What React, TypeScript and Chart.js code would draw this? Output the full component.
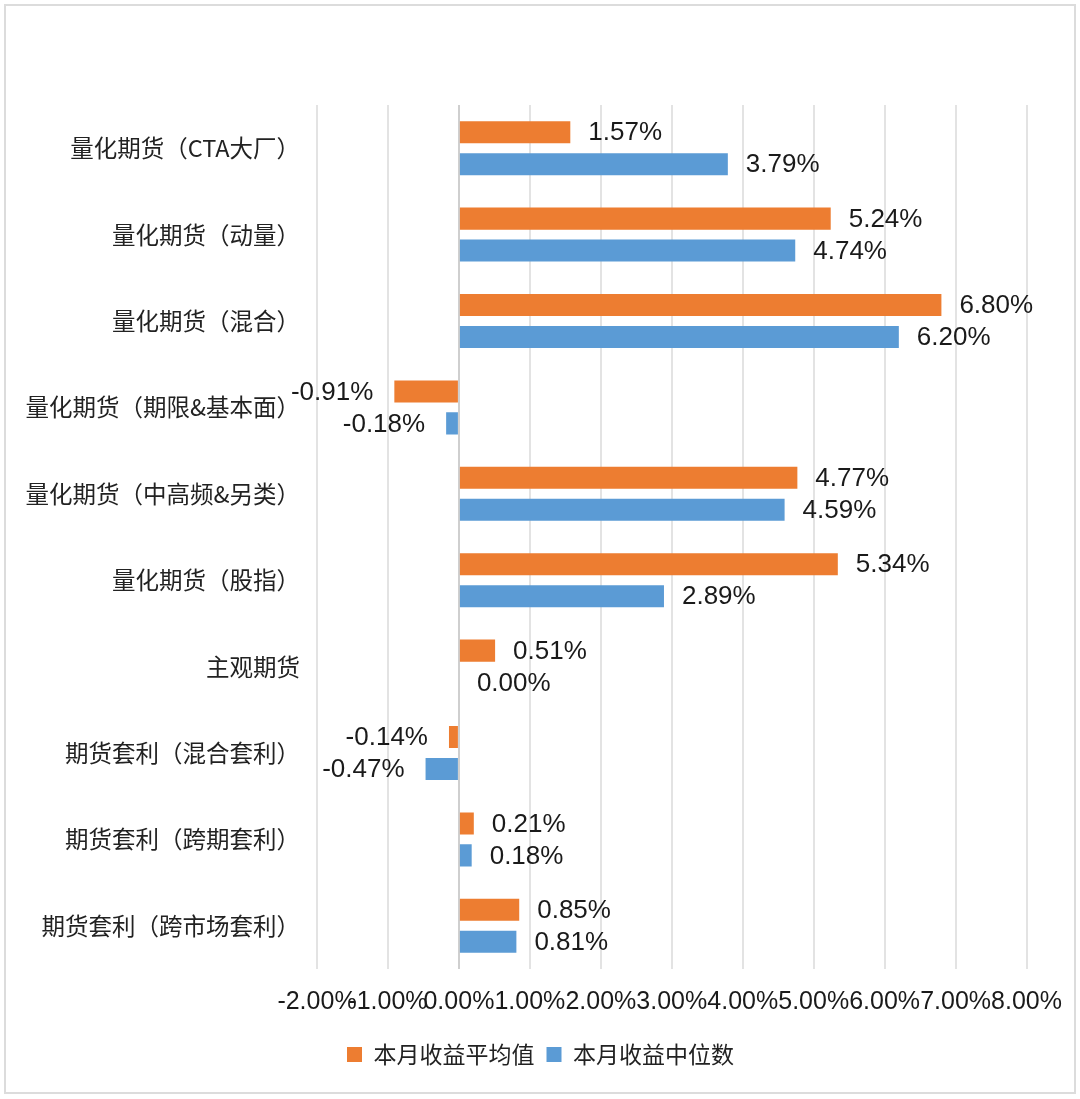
import React, { useEffect, useRef } from "react";
import { Chart, registerables } from "chart.js";

Chart.register(...registerables);

const categories = [
  "量化期货（CTA大厂）",
  "量化期货（动量）",
  "量化期货（混合）",
  "量化期货（期限&基本面）",
  "量化期货（中高频&另类）",
  "量化期货（股指）",
  "主观期货",
  "期货套利（混合套利）",
  "期货套利（跨期套利）",
  "期货套利（跨市场套利）",
];
const meanLabel = "本月收益平均值";
const medianLabel = "本月收益中位数";
const meanValues = [1.57, 5.24, 6.8, -0.91, 4.77, 5.34, 0.51, -0.14, 0.21, 0.85];
const medianValues = [3.79, 4.74, 6.2, -0.18, 4.59, 2.89, 0.0, -0.47, 0.18, 0.81];
const xMin = -2;
const xMax = 8;
const xStep = 1;

const ORANGE = "#ED7D31";
const BLUE = "#5B9BD5";
const LATIN = "'Liberation Sans', Arial, sans-serif";
const CJK = "'Noto Sans CJK SC', 'Liberation Sans', sans-serif";

const fmt = (v: number) => v.toFixed(2) + "%";

const framePlugin = {
  id: "frame",
  beforeDraw(chart: any) {
    const { ctx, width, height } = chart;
    ctx.save();
    ctx.fillStyle = "#ffffff";
    ctx.fillRect(0, 0, width, height);
    ctx.strokeStyle = "#dcdcdc";
    ctx.lineWidth = 2;
    ctx.strokeRect(5, 5, width - 10, height - 11);
    ctx.restore();
  },
};

const legendShift = {
  id: "legendShift",
  afterLayout(chart: any) {
    if (chart.legend) {
      chart.legend.left += 27;
      chart.legend.right += 27;
    }
  },
};

const labelPlugin = {
  id: "valueLabels",
  afterDatasetsDraw(chart: any) {
    const { ctx } = chart;
    ctx.save();
    ctx.font = `26px ${LATIN}`;
    ctx.fillStyle = "#1a1a1a";
    ctx.textBaseline = "middle";
    chart.data.datasets.forEach((ds: any, di: number) => {
      const meta = chart.getDatasetMeta(di);
      meta.data.forEach((bar: any, i: number) => {
        const v = ds.data[i] as number;
        const t = fmt(v);
        if (v < 0) {
          ctx.textAlign = "right";
          ctx.fillText(t, bar.x - 21, bar.y + 1);
        } else {
          ctx.textAlign = "left";
          ctx.fillText(t, bar.x + 18, bar.y + 1);
        }
      });
    });
    ctx.restore();
  },
};

export default function App() {
  const ref = useRef<HTMLCanvasElement | null>(null);
  useEffect(() => {
    if (!ref.current) return;
    const chart = new Chart(ref.current, {
      type: "bar",
      data: {
        labels: categories,
        datasets: [
          {
            label: meanLabel,
            data: meanValues,
            backgroundColor: ORANGE,
            barPercentage: 0.69,
            categoryPercentage: 0.74,
          },
          {
            label: medianLabel,
            data: medianValues,
            backgroundColor: BLUE,
            barPercentage: 0.69,
            categoryPercentage: 0.74,
          },
        ],
      },
      options: {
        indexAxis: "y",
        animation: false,
        responsive: false,
        maintainAspectRatio: false,
        layout: { padding: { top: 105, left: 0, right: 53, bottom: 23 } },
        scales: {
          x: {
            min: xMin,
            max: xMax,
            grid: {
              color: (c: any) => (c.tick && c.tick.value === 0 ? "#cfcfcf" : "#e3e3e3"),
              lineWidth: 2,
              drawTicks: false,
            },
            border: { display: false },
            ticks: {
              stepSize: xStep,
              autoSkip: false,
              maxRotation: 0,
              minRotation: 0,
              padding: 18,
              color: "#1a1a1a",
              font: { family: LATIN, size: 25 },
              callback: (v: any) => fmt(Number(v)),
            },
            afterFit: (s: any) => {
              s.height = 62;
            },
          },
          y: {
            grid: { display: false, drawTicks: false },
            border: { display: false },
            ticks: {
              padding: 17,
              color: "#222222",
              font: { family: CJK, size: 23.5 },
            },
            afterFit: (s: any) => {
              s.width = 317;
            },
          },
        },
        plugins: {
          legend: {
            position: "bottom",
            labels: {
              boxWidth: 15,
              boxHeight: 15,
              padding: 12,
              color: "#222222",
              font: { family: CJK, size: 23 },
            },
          },
          tooltip: { enabled: false },
        },
      },
      plugins: [framePlugin, legendShift, labelPlugin],
    });
    return () => chart.destroy();
  }, []);
  return (
    <div style={{ position: "absolute", left: 0, top: 0, width: 1080, height: 1099 }}>
      <canvas ref={ref} width={1080} height={1099} style={{ width: 1080, height: 1099, display: "block" }} />
    </div>
  );
}
